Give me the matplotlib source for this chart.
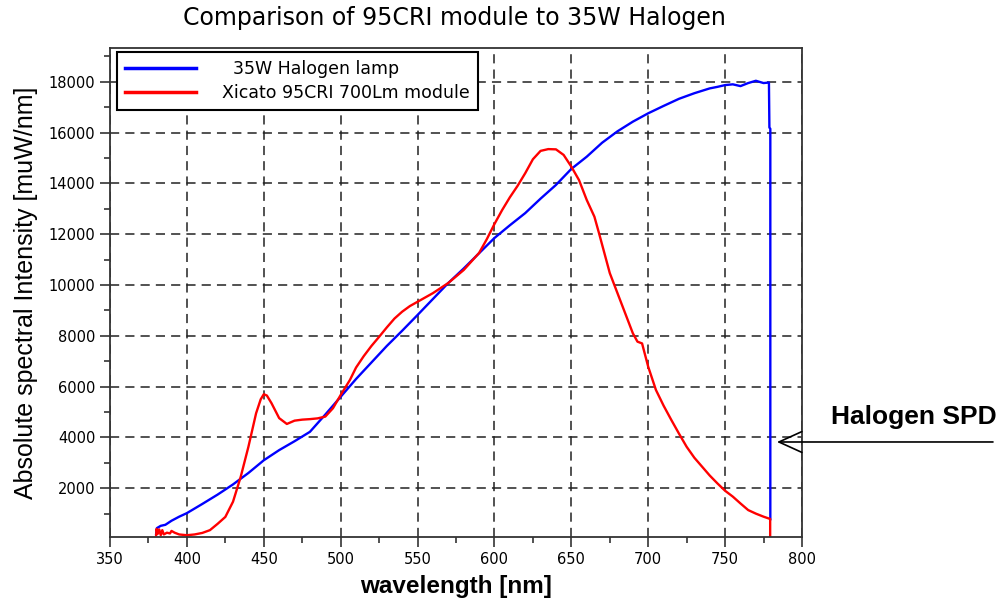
import matplotlib
matplotlib.use('Agg')
import matplotlib.pyplot as plt
from matplotlib.ticker import MultipleLocator

# 35W halogen lamp spectrum
halogen_nm = [380, 380.5, 383, 386, 390, 395, 400, 410, 420, 430, 440, 450, 460, 470,
              480, 490, 500, 510, 520, 530, 540, 550, 560, 570, 580, 590, 600, 610,
              620, 630, 640, 650, 660, 670, 680, 690, 700, 710, 720, 730, 740, 745,
              750, 755, 760, 765, 770, 775, 778.5, 778.8, 779.4, 779.4]
halogen_val = [200, 430, 520, 560, 720, 880, 1020, 1380, 1750, 2150, 2600, 3100, 3500, 3850,
               4220, 4900, 5600, 6300, 6950, 7600, 8200, 8820, 9450, 10080, 10650, 11250, 11850, 12350,
               12830, 13400, 13940, 14570, 15050, 15600, 16050, 16430, 16760, 17050, 17330, 17550, 17740, 17800,
               17870, 17900, 17830, 17950, 18040, 17950, 17970, 16200, 16150, 780]

# Xicato 95CRI 700Lm module spectrum
xicato_nm = [380, 380.3, 381, 382, 383, 384, 385, 387, 389, 390, 392, 395, 400, 405, 410,
             415, 420, 425, 430, 435, 440, 445, 448, 450, 452, 455, 460, 465, 470, 475,
             480, 485, 490, 495, 500, 506, 510, 515, 520, 525, 530, 535, 540, 545, 550, 560, 570,
             580, 590, 595, 600, 605, 610, 615, 620, 625, 630, 635, 640, 645, 650, 655,
             660, 665, 668, 675, 680, 685, 690, 693, 696, 700, 705, 710, 715, 720, 725,
             730, 735, 740, 745, 750, 755, 760, 765, 770, 775, 779.3, 779.3]
xicato_val = [150, 400, 200, 380, 150, 350, 180, 250, 220, 320, 250, 180, 150, 180, 240,
              350, 600, 870, 1470, 2450, 3630, 4950, 5500, 5700, 5650, 5350, 4760, 4530, 4660, 4700,
              4720, 4750, 4820, 5150, 5670, 6260, 6750, 7200, 7600, 7960, 8330, 8680, 8950, 9170, 9340, 9680, 10080,
              10590, 11260, 11800, 12400, 12950, 13450, 13900, 14400, 14950, 15280, 15350, 15340, 15120, 14660, 14130,
              13350, 12690, 12040, 10470, 9680, 8890, 8100, 7770, 7700, 6780, 5870, 5250, 4690, 4150, 3630,
              3200, 2850, 2500, 2190, 1900, 1670, 1400, 1140, 1000, 880, 790, 0]

plt.rcParams['font.family'] = 'DejaVu Sans'

fig = plt.figure(figsize=(10.02, 6.01), dpi=100)
ax = fig.add_axes([110/1002, 64/601, 692/1002, 489/601])

ax.plot(halogen_nm, halogen_val, color='#0000ff', lw=1.7, label='  35W Halogen lamp')
ax.plot(xicato_nm, xicato_val, color='#ff0000', lw=1.7, label='Xicato 95CRI 700Lm module')

ax.set_xlim(350, 800)
ax.set_ylim(80, 19330)
ax.xaxis.set_major_locator(MultipleLocator(50))
ax.xaxis.set_minor_locator(MultipleLocator(25))
ax.set_yticks(range(2000, 18001, 2000))
ax.yaxis.set_minor_locator(MultipleLocator(1000))
ax.tick_params(which='major', length=7, width=1.2, color='#333333', labelsize=10.5)
ax.tick_params(which='minor', length=4, width=1.2, color='#333333')
for s in ax.spines.values():
    s.set_color('#333333')
    s.set_linewidth(1.3)

ax.grid(True, which='major', color='#222222', lw=1.1, linestyle=(0, (6, 4)))
ax.set_axisbelow(True)

ax.set_xlabel('wavelength [nm]', family='Liberation Sans', fontsize=17.5,
              fontweight='bold', labelpad=6)
ax.set_ylabel('Absolute spectral Intensity [muW/nm]', family='Liberation Sans',
              fontsize=18, labelpad=8)
fig.text(0.454, 0.97, 'Comparison of 95CRI module to 35W Halogen', ha='center',
         va='center', fontsize=17)

leg = ax.legend(loc='upper left', bbox_to_anchor=(0.010, 0.992), borderaxespad=0,
                fontsize=12.5, handlelength=4.1, handletextpad=1.5, fancybox=False,
                framealpha=1, edgecolor='black', borderpad=0.45, labelspacing=0.35)
leg.get_frame().set_linewidth(1.5)
for h in leg.get_lines():
    h.set_linewidth(2.5)

ax.annotate('', xy=(783.7, 3820), xycoords='data', xytext=(0.991, 0.2646),
            textcoords='figure fraction', annotation_clip=False,
            arrowprops=dict(arrowstyle='->,head_length=1.1,head_width=0.5',
                            color='black', lw=1.2, mutation_scale=15,
                            shrinkA=0, shrinkB=0))
fig.text(0.912, 0.306, 'Halogen SPD', ha='center', va='center',
         family='Liberation Sans', fontweight='bold', fontsize=19)

fig.savefig('out.png', dpi=100)
